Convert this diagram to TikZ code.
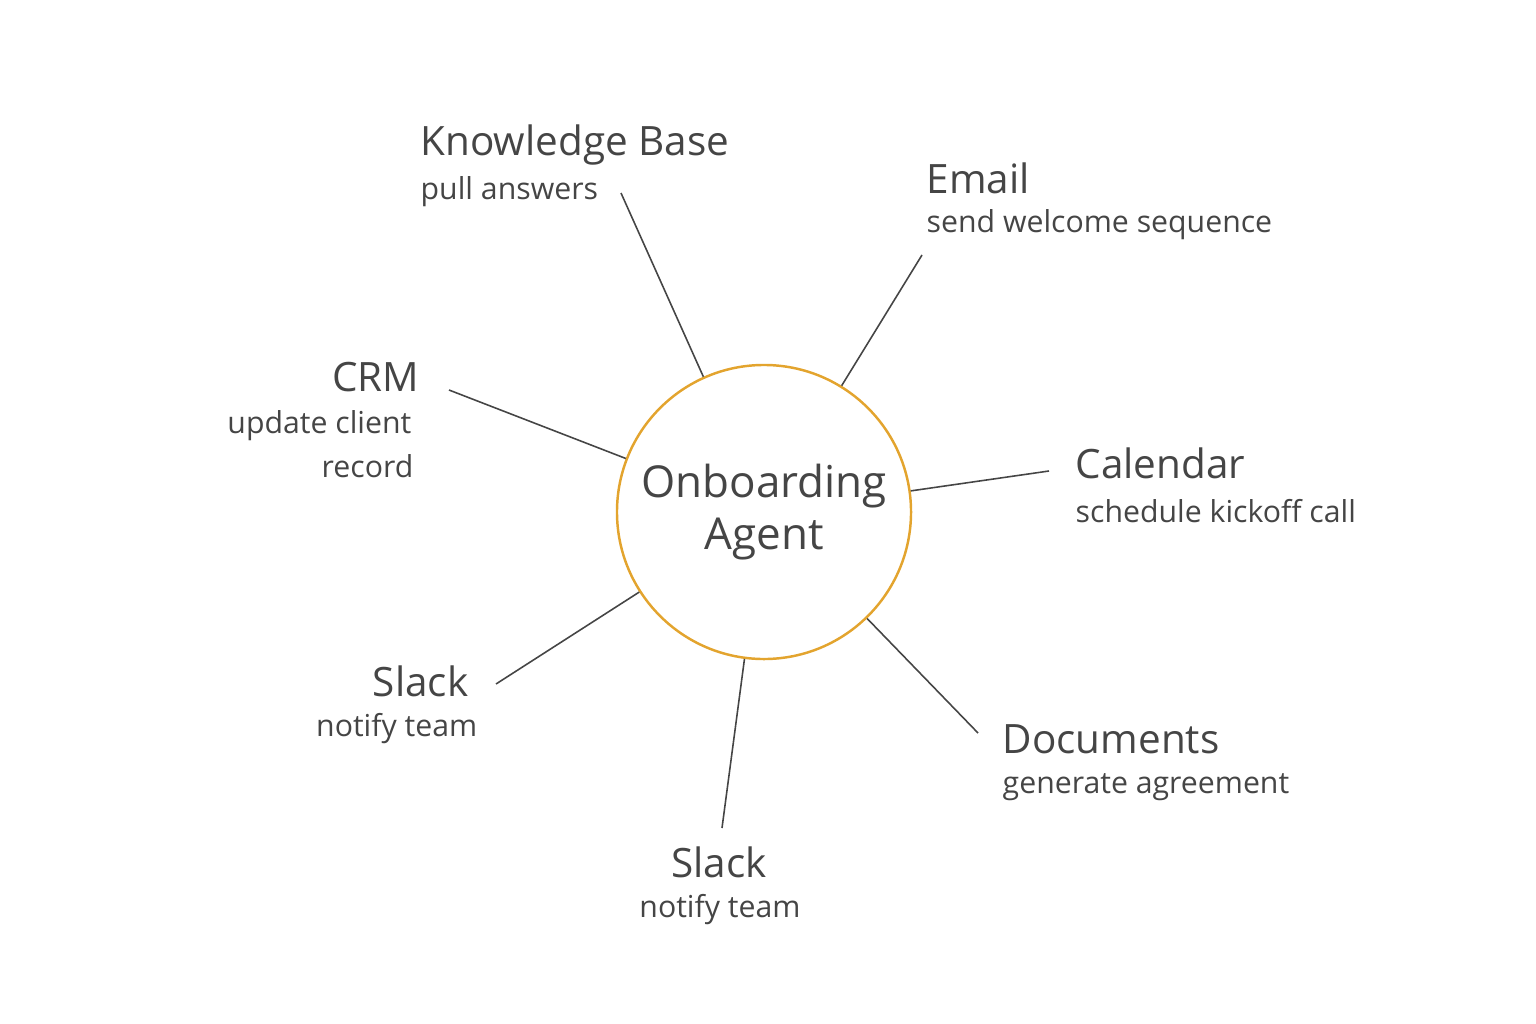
\documentclass[tikz,border=0pt]{standalone}
\usepackage{fontspec}
\setmainfont{Open Sans}
\definecolor{ink}{HTML}{454545}
\definecolor{ring}{HTML}{E3A42E}
\tikzset{
  title/.style={text=ink, font=\fontsize{11.5}{13}\selectfont, inner sep=0pt},
  sub/.style={text=ink, font=\fontsize{8.6}{10}\selectfont, inner sep=0pt},
  spoke/.style={draw=ink, line width=0.45pt},
}
\begin{document}
\begin{tikzpicture}[x=0.01cm, y=-0.01cm]
\useasboundingbox (0,0) rectangle (1536,1024);
\node[draw=ring, line width=0.7pt, circle, minimum size=2.92cm, align=center, text=ink,
  font=\fontsize{12.5}{15}\selectfont] (agent) at (764,512) {Onboarding\\Agent};
% labels
\node[title, anchor=west] (kb) at (420,145) {Knowledge Base};
\node[sub, anchor=west] (kbsub) at (420,192) {pull answers};
\node[title, anchor=west] (email) at (926,178) {Email};
\node[sub, anchor=west] (emailsub) at (926,225) {send welcome sequence};
\node[title, anchor=east] (crm) at (420,377) {CRM};
\node[sub, anchor=east] (crmsub) at (412,426) {update client};
\node[sub, anchor=east] (crmsub2) at (414,466) {record};
\node[title, anchor=west] (cal) at (1075,463) {Calendar};
\node[sub, anchor=west] (calsub) at (1075,511) {schedule kickoff call};
\node[title, anchor=east] (slackl) at (469,681) {Slack};
\node[sub, anchor=east] (slacklsub) at (478,729) {notify team};
\node[title] (slackb) at (719,862) {Slack};
\node[sub] (slackbsub) at (720,910) {notify team};
\node[title, anchor=west] (docs) at (1002,739) {Documents};
\node[sub, anchor=west] (docssub) at (1002,787) {generate agreement};
% spoke ends
\coordinate (kbend) at (621,193);
\coordinate (emailend) at (922,255);
\coordinate (crmend) at (449,390);
\coordinate (calend) at (1049,471);
\coordinate (slacklend) at (496,684);
\coordinate (slackbend) at (722,828);
\coordinate (docsend) at (978,733);
\foreach \e in {kbend,emailend,crmend,calend,slacklend,slackbend,docsend}
  \path[spoke] (agent) -- (\e);
\end{tikzpicture}
\end{document}
